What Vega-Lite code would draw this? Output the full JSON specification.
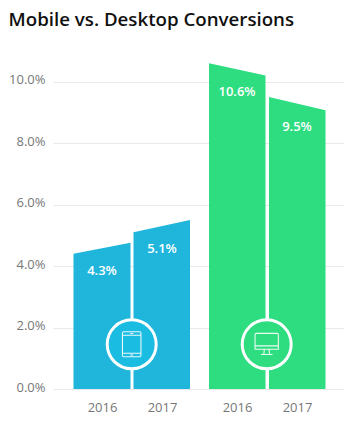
{"$schema":"https://vega.github.io/schema/vega-lite/v6.json","width":291,"height":338,"autosize":{"type":"none"},"padding":{"left":53,"top":51,"right":13,"bottom":38},"background":"white","view":{"stroke":null},"title":{"text":"Mobile vs. Desktop Conversions","anchor":"start","dx":0,"offset":21,"font":"Open Sans","fontSize":18.7,"fontWeight":600,"color":"#111111"},"datasets":{"bars":[{"bar":"m16","device":"Mobile","x":2.05,"y":0.044},{"bar":"m16","device":"Mobile","x":7.75,"y":0.0476},{"bar":"m17","device":"Mobile","x":8.05,"y":0.051},{"bar":"m17","device":"Mobile","x":13.7,"y":0.055},{"bar":"d16","device":"Desktop","x":15.6,"y":0.106},{"bar":"d16","device":"Desktop","x":21.25,"y":0.102},{"bar":"d17","device":"Desktop","x":21.6,"y":0.095},{"bar":"d17","device":"Desktop","x":27.25,"y":0.0907}],"labels":[{"x":4.9,"y":0.046,"label":"4.3%"},{"x":10.9,"y":0.053,"label":"5.1%"},{"x":18.4,"y":0.104,"label":"10.6%"},{"x":24.4,"y":0.0928,"label":"9.5%"}],"badges":[{"device":"Mobile","x":7.87,"y":0.01455},{"device":"Desktop","x":21.37,"y":0.01455}]},"encoding":{"x":{"field":"x","type":"quantitative","scale":{"domain":[0,29.1],"nice":false,"zero":false},"axis":{"values":[4.9,10.9,18.4,24.4],"labelExpr":"datum.value==4.9||datum.value==18.4?'2016':'2017'","title":null,"domain":false,"ticks":false,"grid":false,"labelFont":"Open Sans","labelFontSize":13,"labelColor":"#777777","labelPadding":12}},"y":{"field":"y","type":"quantitative","stack":null,"scale":{"domain":[0,0.11],"nice":false},"axis":{"values":[0,0.02,0.04,0.06,0.08,0.1],"format":".1%","title":null,"domain":false,"ticks":false,"grid":true,"gridColor":"#e9e9e9","gridWidth":1,"labelFont":"Open Sans","labelFontSize":13,"labelColor":"#777777","labelPadding":8,"labelOffset":-2}}},"layer":[{"data":{"name":"bars"},"mark":{"type":"area","opacity":1},"encoding":{"detail":{"field":"bar"},"color":{"field":"device","type":"nominal","scale":{"domain":["Mobile","Desktop"],"range":["#20b6dc","#2edd80"]},"legend":null}}},{"data":{"name":"labels"},"mark":{"type":"text","color":"white","font":"Open Sans","fontSize":13,"fontWeight":600,"baseline":"middle","dy":23},"encoding":{"text":{"field":"label"}}},{"data":{"name":"badges"},"mark":{"type":"point","shape":"circle","filled":true,"opacity":1,"stroke":"white","strokeWidth":3,"size":2401},"encoding":{"fill":{"field":"device","type":"nominal","scale":{"domain":["Mobile","Desktop"],"range":["#1bbce2","#2edd80"]},"legend":null}}},{"data":{"name":"badges"},"transform":[{"filter":"datum.device=='Mobile'"}],"mark":{"type":"point","filled":false,"opacity":0.9,"stroke":"white","strokeWidth":1.1,"size":625,"shape":"M-0.74,-0.9Q-0.74,-1,-0.64,-1L0.64,-1Q0.74,-1,0.74,-0.9L0.74,0.9Q0.74,1,0.64,1L-0.64,1Q-0.74,1,-0.74,0.9ZM-0.74,-0.72L0.74,-0.72M-0.74,0.72L0.74,0.72M-0.12,-0.86L0.12,-0.86M-0.12,0.86L0.12,0.86"}},{"data":{"name":"badges"},"transform":[{"filter":"datum.device=='Desktop'"}],"mark":{"type":"point","filled":false,"opacity":0.9,"stroke":"white","strokeWidth":1.1,"size":543,"shape":"M-1,-0.85Q-1,-0.94,-0.9,-0.94L0.9,-0.94Q1,-0.94,1,-0.85L1,0.42L-1,0.42ZM-1,0.14L1,0.14M-0.2,0.42L-0.25,0.85M0.2,0.42L0.25,0.85M-0.5,0.88L0.5,0.88"}}]}
